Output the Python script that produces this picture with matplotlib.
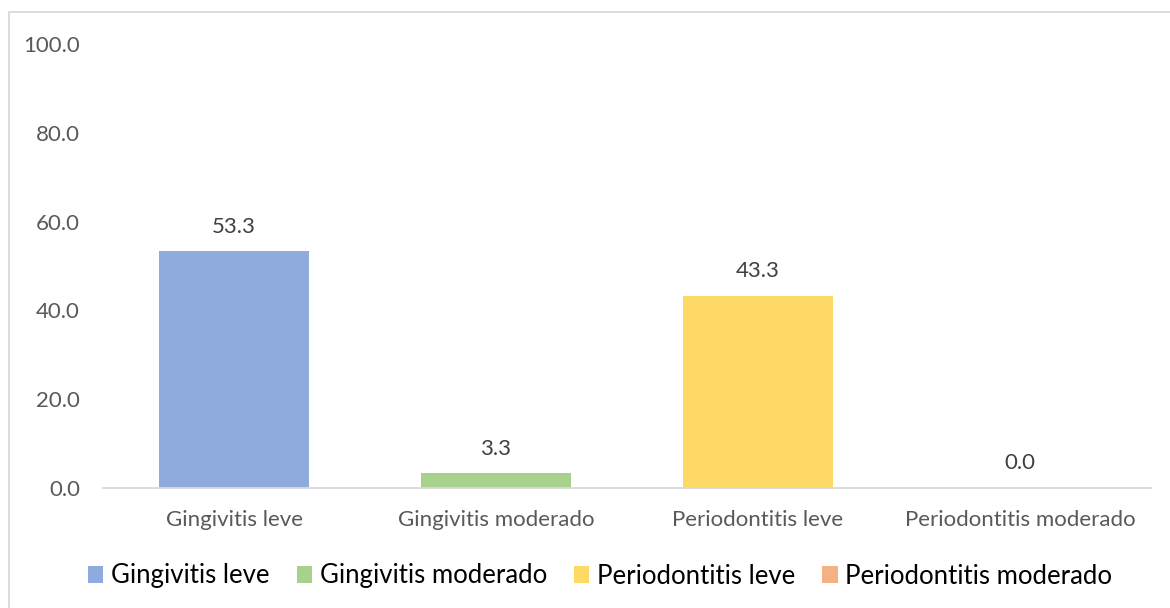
import matplotlib.pyplot as plt
from matplotlib.patches import Rectangle

categorias = ['Gingivitis leve', 'Gingivitis moderado', 'Periodontitis leve', 'Periodontitis moderado']
valores = [53.3, 3.3, 43.3, 0.0]
colores = ['#8faadc', '#a9d18e', '#ffd966', '#f4b183']
yticks = [0, 20, 40, 60, 80, 100]

plt.rcParams['font.family'] = ['Lato', 'DejaVu Sans']

fig = plt.figure(figsize=(11.7, 6.08), dpi=100)
ax = fig.add_axes([103/1170, 1 - 488/608, 1048/1170, 444/608])

x = range(len(categorias))
barras = ax.bar(x, valores, width=0.57, color=colores, label=categorias)
for xi, v in zip(x, valores):
    ax.text(xi, v + 3.3, '%.1f' % v, ha='center', va='bottom', fontsize=16, color='#404040')

ax.set_xlim(-0.5, 3.5)
ax.set_ylim(0, 100)
ax.set_yticks(yticks)
ax.set_yticklabels(['%.1f' % t for t in yticks], fontsize=16, color='#595959')
ax.set_xticks(list(x))
ax.set_xticklabels(categorias, fontsize=16, color='#595959')
ax.tick_params(length=0)
ax.tick_params(axis='y', pad=16.5)
ax.tick_params(axis='x', pad=15.5)
for s in ['left', 'right', 'top']:
    ax.spines[s].set_visible(False)
ax.spines['bottom'].set_color('#d9d9d9')
ax.spines['bottom'].set_linewidth(1.3)

leg = fig.legend(barras, categorias, loc='center', bbox_to_anchor=(0.513, 1 - 576/608),
                 ncol=4, frameon=False, fontsize=18.5, handlelength=0.6, handleheight=0.6,
                 handletextpad=0.3, columnspacing=1.05)

# marco del gráfico
fig.patches.append(Rectangle((9/1170, -0.01), 1.0, 1 - 12/608 + 0.01, transform=fig.transFigure,
                             fill=False, edgecolor='#d9d9d9', lw=1.3))

fig.savefig('out.png', dpi=100)
